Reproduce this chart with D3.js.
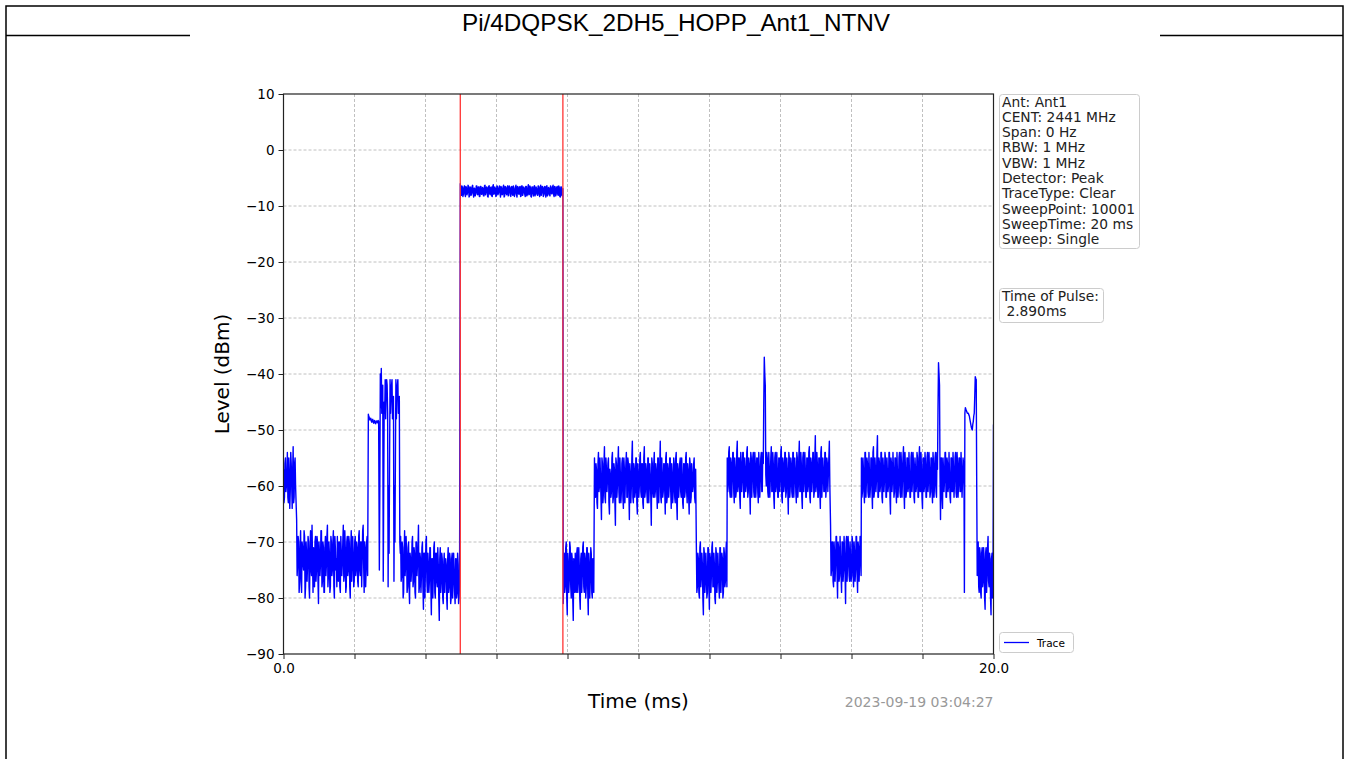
<!DOCTYPE html>
<html><head><meta charset="utf-8">
<script src="https://cdn.jsdelivr.net/npm/d3@7"></script>
<style>
html,body{margin:0;padding:0;background:#fff;}
svg{display:block;}
</style></head>
<body>
<svg id="c" width="1346" height="759"></svg>
<script>
// ---------- DATA ----------
const chartTitle = "Pi/4DQPSK_2DH5_HOPP_Ant1_NTNV";
const xDomain = [0, 20];
const yDomain = [-90, 10];
const xTicks = [0, 2, 4, 6, 8, 10, 12, 14, 16, 18, 20];
const xTickLabels = ["0.0", "", "", "", "", "", "", "", "", "", "20.0"];
const yTicks = [10, 0, -10, -20, -30, -40, -50, -60, -70, -80, -90];
const markerTimes = [4.98, 7.87];
const infoLines = ["Ant: Ant1","CENT: 2441 MHz","Span: 0 Hz","RBW: 1 MHz","VBW: 1 MHz","Detector: Peak","TraceType: Clear","SweepPoint: 10001","SweepTime: 20 ms","Sweep: Single"];
const pulseLines = ["Time of Pulse:", " 2.890ms"];
const legendLabel = "Trace";
const timestamp = "2023-09-19 03:04:27";

// segment start / end times (ms)
const segStart = [0.00, 0.37, 2.39, 2.70, 3.30, 4.98, 7.88, 8.76, 11.63, 12.50, 15.41, 16.28, 19.18];
const segEnd   = [0.34, 2.37, 2.68, 3.29, 4.96, 7.87, 8.74, 11.61, 12.49, 15.39, 16.27, 19.17, 20.00];

// level samples (dBm); "a" and "b" samples alternate in time inside each segment
const seg1a = [-57,-62,-55,-60,-54,-63,-58,-61,-56,-64,-53,-62,-55];
const seg1b = [-63,-56,-61,-58,-62,-55,-64,-54,-60,-57,-63,-56,-60];
const seg2a = [-66,-74,-70,-77,-68,-79,-71,-75,-69,-78,-72,-74,-70,-80,-68,-76,-73,-71,-78,-69,
  -75,-70,-81,-72,-74,-68,-77,-71,-79,-69,-74,-67,-76,-72,-78,-70,-75,-68,-80,-71,
  -73,-69,-77,-70,-79,-72,-74,-67,-76,-71,-78,-69,-75,-70,-80,-68,-74,-72,-77,-69,
  -75,-71,-78,-68,-76,-70,-73,-67,-79,-71,-75,-69];
const seg2b = [-76,-69,-79,-71,-77,-70,-74,-68,-80,-70,-77,-69,-78,-71,-75,-67,-79,-76,-70,-77,
  -69,-77,-70,-76,-68,-78,-70,-79,-71,-76,-69,-78,-70,-79,-69,-76,-70,-78,-69,-75,
  -78,-75,-70,-78,-69,-76,-70,-77,-68,-79,-70,-76,-69,-78,-71,-77,-69,-78,-70,-76,
  -70,-77,-69,-75,-70,-78,-68,-74,-70,-78,-70,-76];
const seg3a = [-47.2,-47.8,-48,-48.4,-48.2,-48.6,-48.4,-48.7,-48.5,-48.6,-48.3];
const seg3b = [-47.6,-48.2,-47.9,-48.6,-48.1,-48.8,-48.3,-48.9,-48.4,-48.7,-48.5];
const seg4a = [-75,-40,-39,-44,-77,-45,-41,-43,-42,-78,-72,-41,-44,-41,-46,-77,-70,-41,-43,-41,-45,-70];
const seg4b = [-60,-46,-47,-42,-60,-47,-48,-41,-47,-60,-55,-47,-42,-48,-44,-60,-55,-48,-42,-47,-44,-72];
const seg5a = [-69,-76,-71,-79,-68,-74,-72,-78,-70,-81,-73,-75,-69,-77,-72,-80,-70,-74,-67,-78,
  -73,-76,-70,-82,-72,-75,-69,-79,-74,-77,-71,-83,-73,-76,-70,-80,-72,-78,-74,-84,
  -71,-77,-73,-81,-72,-76,-74,-82,-71,-78,-73,-80,-72,-77,-75,-81,-73,-79,-74,-80];
const seg5b = [-77,-70,-80,-72,-76,-69,-79,-71,-78,-72,-77,-70,-78,-71,-79,-70,-76,-71,-79,-72,
  -79,-71,-78,-72,-80,-70,-77,-72,-79,-71,-78,-73,-80,-71,-79,-72,-77,-71,-80,-73,
  -79,-72,-80,-74,-79,-73,-80,-73,-79,-72,-81,-73,-80,-72,-79,-73,-80,-72,-81,-77];
const seg6a = [-6.0,-8.1,-6.6,-7.9,-6.4,-8.3,-6.8,-7.6,-6.5,-8.2,
  -6.7,-7.8,-6.3,-8.4,-6.9,-7.7,-6.4,-8.0,-6.6,-8.3,
  -6.5,-7.9,-6.8,-8.2,-6.3,-7.6,-6.7,-8.4,-6.4,-8.0,
  -6.6,-8.3,-6.2,-7.8,-6.9,-8.1,-6.5,-7.7,-6.4,-8.4,
  -6.8,-7.9,-6.3,-8.2,-6.6,-8.0,-6.4,-7.6,-6.7,-8.3,
  -6.5,-8.1,-6.9,-7.8,-6.3,-8.4,-6.6,-7.9,-6.5,-8.2,
  -6.4,-7.7,-6.8,-8.3,-6.5,-8.0,-6.2,-7.9,-6.7,-8.4,
  -6.6,-8.2,-6.4,-7.8,-6.9,-8.1,-6.5,-8.3,-6.3,-7.6,
  -6.7,-8.0,-6.5,-8.4,-6.4,-7.9,-6.8,-8.2,-6.6,-7.8,
  -6.3,-8.3,-6.6,-7.9,-6.5,-8.1,-6.7,-8.4,-6.6,-8.2];
const seg6b = [-7.8,-6.4,-8.3,-6.7,-7.9,-6.5,-8.0,-6.3,-8.4,-6.6,
  -8.1,-6.5,-7.7,-6.8,-8.2,-6.4,-7.9,-6.6,-8.3,-6.5,
  -7.9,-6.7,-8.2,-6.4,-8.0,-6.6,-8.3,-6.5,-7.8,-6.7,
  -8.2,-6.5,-7.9,-6.6,-8.3,-6.4,-8.0,-6.8,-7.7,-6.5,
  -8.0,-6.6,-8.4,-6.5,-7.8,-6.7,-8.2,-6.4,-8.1,-6.6,
  -7.9,-6.4,-8.3,-6.7,-8.0,-6.5,-7.8,-6.6,-8.3,-6.4,
  -8.1,-6.6,-7.9,-6.5,-8.2,-6.7,-8.0,-6.4,-8.3,-6.6,
  -7.8,-6.5,-8.2,-6.6,-8.0,-6.4,-7.9,-6.7,-8.1,-6.5,
  -8.3,-6.6,-7.9,-6.5,-8.2,-6.7,-8.0,-6.4,-7.8,-6.6,
  -8.0,-6.5,-8.2,-6.7,-7.9,-6.4,-8.3,-6.6,-8.1,-6.9];
const seg7a = [-81,-72,-78,-70,-83,-74,-77,-71,-80,-73,-84,-75,-72,-79,-71,-77,-74,-82,-72,-76,-70,-79,-73,-78,-71,-83,-74,-77,-72,-80,-73];
const seg7b = [-73,-79,-71,-80,-72,-79,-70,-78,-72,-80,-73,-79,-78,-72,-79,-71,-80,-73,-79,-71,-78,-72,-80,-71,-79,-72,-80,-71,-79,-73,-79];
const seg8a = [-55,-62,-57,-64,-54,-60,-58,-66,-56,-61,-53,-63,-57,-59,-55,-65,-58,-61,-54,-62,
  -57,-67,-56,-60,-53,-63,-58,-61,-55,-64,-57,-59,-54,-62,-56,-66,-58,-60,-52,-63,
  -57,-61,-55,-65,-58,-60,-54,-62,-56,-64,-53,-61,-57,-63,-55,-60,-58,-67,-56,-62,
  -54,-61,-57,-64,-55,-60,-52,-63,-58,-61,-56,-65,-54,-62,-57,-60,-55,-64,-58,-61,
  -56,-63,-54,-66,-57,-60,-55,-62,-58,-64,-56,-61,-54,-63,-57,-65,-56,-62,-58,-60,
  -55,-63];
const seg8b = [-62,-56,-63,-56,-61,-55,-62,-55,-63,-56,-62,-55,-61,-56,-63,-57,-62,-55,-63,-56,
  -63,-55,-62,-56,-61,-55,-63,-56,-62,-55,-63,-56,-62,-55,-61,-56,-63,-55,-62,-56,
  -62,-55,-63,-56,-62,-55,-61,-56,-63,-55,-62,-56,-61,-55,-63,-56,-62,-55,-61,-56,
  -62,-56,-61,-55,-63,-56,-62,-55,-62,-56,-61,-55,-63,-56,-62,-55,-61,-56,-63,-55,
  -62,-55,-63,-56,-62,-56,-61,-55,-63,-56,-62,-55,-61,-56,-62,-55,-63,-56,-61,-56,
  -62,-57];
const seg9a = [-71,-78,-73,-80,-70,-76,-74,-83,-72,-77,-75,-79,-71,-82,-73,-76,-70,-78,-74,-81,-72,-77,-75,-80,-71,-76,-73,-79,-72,-77,-70];
const seg9b = [-79,-72,-79,-71,-78,-72,-80,-71,-79,-72,-80,-71,-78,-72,-79,-71,-78,-72,-80,-71,-79,-72,-78,-71,-79,-72,-80,-71,-78,-72,-78];
const seg10a = [-55,-60,-53,-62,-56,-59,-54,-63,-57,-61,-52,-60,-55,-64,-56,-59,-54,-62,-57,-60,
  -53,-61,-56,-65,-55,-59,-54,-62,-56,-60,-55,-63,-57,-59,-54,-61,-56,-37,-42,-60,
  -55,-62,-57,-59,-53,-61,-56,-64,-54,-60,-57,-62,-55,-59,-53,-63,-56,-60,-54,-61,
  -57,-65,-55,-60,-56,-62,-54,-59,-57,-63,-55,-60,-52,-61,-56,-64,-54,-59,-57,-62,
  -55,-60,-53,-63,-56,-59,-54,-61,-51,-60,-56,-62,-55,-64,-53,-59,-57,-61,-54,-60,
  -56,-58,-52];
const seg10b = [-61,-54,-61,-55,-62,-54,-61,-55,-62,-54,-61,-55,-62,-54,-61,-54,-62,-55,-61,-54,
  -62,-55,-61,-54,-62,-55,-61,-54,-62,-55,-61,-54,-62,-55,-61,-54,-45,-40,-58,-54,
  -61,-54,-62,-55,-61,-54,-62,-55,-61,-54,-62,-55,-61,-54,-62,-55,-61,-54,-62,-55,
  -61,-54,-62,-55,-61,-54,-62,-55,-61,-54,-62,-55,-61,-54,-62,-55,-61,-54,-62,-55,
  -61,-54,-62,-55,-61,-54,-62,-55,-61,-54,-62,-55,-61,-54,-62,-55,-61,-54,-62,-55,
  -61,-55,-60];
const seg11a = [-67,-75,-70,-78,-72,-74,-69,-80,-71,-76,-73,-79,-70,-75,-72,-81,-69,-74,-71,-77,-73,-76,-70,-78,-72,-75,-69,-79,-71,-74,-70];
const seg11b = [-76,-70,-77,-70,-77,-69,-76,-70,-77,-69,-76,-70,-77,-69,-76,-70,-77,-69,-76,-70,-77,-69,-76,-70,-77,-69,-76,-70,-77,-69,-76];
const seg12a = [-55,-61,-57,-63,-54,-59,-56,-62,-58,-60,-55,-64,-53,-61,-57,-59,-51,-62,-56,-60,
  -54,-63,-57,-59,-55,-62,-58,-60,-54,-65,-56,-59,-57,-61,-55,-63,-58,-60,-54,-62,
  -56,-59,-53,-64,-57,-61,-55,-60,-58,-62,-54,-59,-56,-63,-57,-60,-55,-62,-53,-61,
  -57,-64,-55,-60,-56,-62,-54,-59,-57,-61,-55,-63,-56,-60,-54,-62,-57,-38,-42,-66,
  -55,-64,-57,-59,-54,-62,-56,-60,-58,-63,-55,-61,-57,-59,-54,-62,-56,-60,-55,-61,
  -57,-59,-56];
const seg12b = [-62,-55,-61,-54,-62,-55,-61,-54,-62,-55,-61,-54,-62,-55,-61,-54,-62,-55,-61,-54,
  -62,-55,-61,-54,-62,-55,-61,-54,-62,-55,-61,-54,-62,-55,-61,-54,-62,-55,-61,-54,
  -62,-55,-61,-54,-62,-55,-61,-54,-62,-55,-61,-54,-62,-55,-61,-54,-62,-55,-61,-54,
  -62,-55,-61,-54,-62,-55,-61,-54,-62,-55,-61,-54,-62,-55,-61,-54,-46,-40,-58,-55,
  -62,-55,-61,-54,-62,-55,-61,-54,-62,-55,-61,-54,-62,-55,-61,-54,-62,-55,-61,-54,
  -62,-55,-61];
const seg13a = [-79,-46,-46.5,-47,-47,-47.5,-48.5,-49.5,-50,-48.5,-47,-40.5,-41,-76,-70,-79,-72,-80,-71,-77,-73,-82,-71,-76,-69,-78,-73,-83,-72,-78];
const seg13b = [-47,-46.3,-46.8,-47,-47.3,-48,-49,-49.8,-49,-47.5,-44,-40.8,-60,-72,-78,-71,-79,-72,-78,-71,-80,-72,-79,-71,-77,-72,-80,-73,-80,-49];

const segA = [seg1a,seg2a,seg3a,seg4a,seg5a,seg6a,seg7a,seg8a,seg9a,seg10a,seg11a,seg12a,seg13a];
const segB = [seg1b,seg2b,seg3b,seg4b,seg5b,seg6b,seg7b,seg8b,seg9b,seg10b,seg11b,seg12b,seg13b];

// ---------- BUILD ----------
const trace = [];
segA.forEach((a, k) => {
  const vals = a.flatMap((v, j) => [v, segB[k][j]]);
  const t0 = segStart[k], t1 = segEnd[k], n = vals.length;
  vals.forEach((v, j) => trace.push({t: t0 + j * (t1 - t0) / (n - 1), v}));
});

const svg = d3.select("#c");
const FONT = "DejaVu Sans, sans-serif";

// outer frame + title
svg.append("rect").attr("x",6).attr("y",6).attr("width",1337).attr("height",760)
  .attr("fill","none").attr("stroke","#000").attr("stroke-width",1.5);
svg.append("line").attr("x1",6).attr("x2",190).attr("y1",35.5).attr("y2",35.5).attr("stroke","#000").attr("stroke-width",1.5);
svg.append("line").attr("x1",1160).attr("x2",1343).attr("y1",35.5).attr("y2",35.5).attr("stroke","#000").attr("stroke-width",1.5);
svg.append("text").attr("x",676).attr("y",31).attr("text-anchor","middle")
  .attr("font-family","Liberation Sans, Arial, sans-serif").attr("font-size",24.3).text(chartTitle);

const L = 283.5, R = 993.5, T = 94, B = 654;
const x = d3.scaleLinear().domain(xDomain).range([L, R]);
const y = d3.scaleLinear().domain(yDomain).range([B, T]);

// grid
const g = svg.append("g");
g.selectAll(".gx").data(xTicks.slice(1,-1)).enter().append("line")
  .attr("x1",d=>x(d)).attr("x2",d=>x(d)).attr("y1",T).attr("y2",B)
  .attr("stroke","#b0b0b0").attr("stroke-width",0.8).attr("stroke-dasharray","3,2");
g.selectAll(".gy").data(yTicks.slice(1,-1)).enter().append("line")
  .attr("x1",L).attr("x2",R).attr("y1",d=>y(d)).attr("y2",d=>y(d))
  .attr("stroke","#b0b0b0").attr("stroke-width",0.8).attr("stroke-dasharray","3,2");

// trace
svg.append("clipPath").attr("id","clip").append("rect").attr("x",L).attr("y",T).attr("width",R-L).attr("height",B-T);
const line = d3.line().x(d=>x(d.t)).y(d=>y(d.v));
svg.append("path").datum(trace).attr("d",line).attr("fill","none")
  .attr("stroke","#0000ff").attr("stroke-width",1.4).attr("stroke-linejoin","round")
  .attr("clip-path","url(#clip)");

// markers
svg.selectAll(".mk").data(markerTimes).enter().append("line")
  .attr("x1",d=>x(d)).attr("x2",d=>x(d)).attr("y1",T).attr("y2",B)
  .attr("stroke","#ff3333").attr("stroke-width",1.3);

// axes
const xAxis = d3.axisBottom(x).tickValues(xTicks).tickSize(5).tickPadding(4)
  .tickFormat((d,i)=>xTickLabels[i]);
const yAxis = d3.axisLeft(y).tickValues(yTicks).tickSize(5).tickPadding(4)
  .tickFormat(d=>d3.format("d")(d).replace("-","\u2212"));
const gx = svg.append("g").attr("transform",`translate(0,${B})`).call(xAxis);
const gy = svg.append("g").attr("transform",`translate(${L},0)`).call(yAxis);
[gx,gy].forEach(a=>{
  a.select(".domain").remove();
  a.selectAll("text").attr("font-family",FONT).attr("font-size",13.5).attr("fill","#000");
  a.selectAll("line").attr("stroke","#222").attr("stroke-width",1);
});
svg.append("rect").attr("x",L).attr("y",T).attr("width",R-L).attr("height",B-T)
  .attr("fill","none").attr("stroke","#222").attr("stroke-width",1.2);

// axis labels
svg.append("text").attr("x",(L+R)/2).attr("y",708).attr("text-anchor","middle")
  .attr("font-family",FONT).attr("font-size",20).text("Time (ms)");
svg.append("text").attr("transform",`translate(229,${(T+B)/2}) rotate(-90)`).attr("text-anchor","middle")
  .attr("font-family",FONT).attr("font-size",20).text("Level (dBm)");
svg.append("text").attr("x",R).attr("y",707).attr("text-anchor","end")
  .attr("font-family",FONT).attr("font-size",14).attr("fill","#999").text(timestamp);

// info boxes
function box(x0, y0, w, h, lines, lh, fs){
  svg.append("rect").attr("x",x0).attr("y",y0).attr("width",w).attr("height",h).attr("rx",3)
    .attr("fill","#fff").attr("stroke","#cccccc").attr("stroke-width",1);
  lines.forEach((t,i)=>svg.append("text").attr("x",x0+2.5).attr("y",y0+12+i*lh)
    .attr("font-family",FONT).attr("font-size",fs).attr("fill","#222")
    .attr("xml:space","preserve").style("white-space","pre").text(t));
}
box(999.5, 94.5, 140, 154, infoLines, 15.3, 13.8);
box(999.5, 288.5, 104, 34, pulseLines, 15.3, 13.8);

// legend
svg.append("rect").attr("x",999.5).attr("y",632.5).attr("width",74).attr("height",20).attr("rx",3)
  .attr("fill","#fff").attr("stroke","#cccccc");
svg.append("line").attr("x1",1004).attr("x2",1029).attr("y1",642.5).attr("y2",642.5)
  .attr("stroke","#0000ff").attr("stroke-width",1.3);
svg.append("text").attr("x",1037).attr("y",646.5).attr("font-family",FONT).attr("font-size",10.5).text(legendLabel);
</script>
</body></html>
